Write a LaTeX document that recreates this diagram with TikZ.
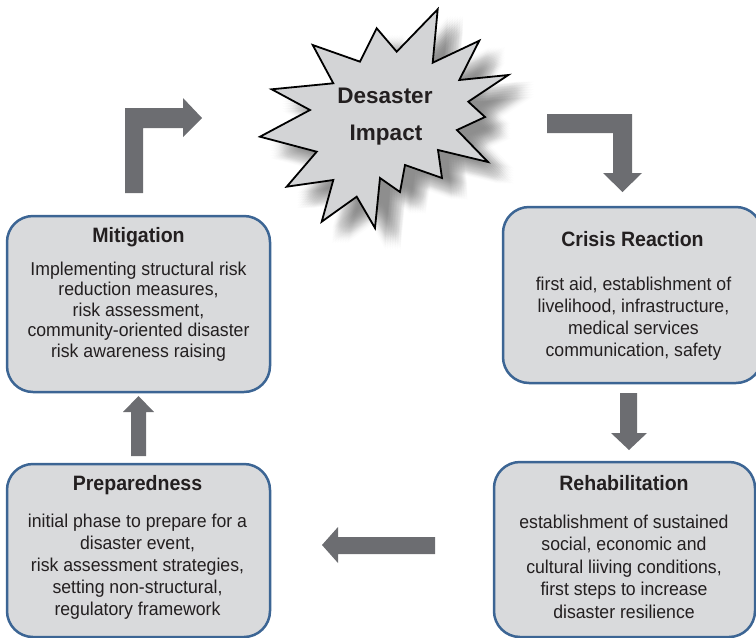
\documentclass[tikz,border=0pt]{standalone}
\usepackage{fontspec}
\setmainfont{Liberation Sans}
\newfontfamily\narrowbody[FakeStretch=0.95]{Liberation Sans}
\newfontfamily\narrowtitle[FakeStretch=0.94]{Liberation Sans}
\definecolor{boxfill}{HTML}{D9DADC}
\definecolor{boxline}{HTML}{3C6594}
\definecolor{arrowgray}{HTML}{6C6D71}
\definecolor{starfill}{HTML}{D3D4D6}
\definecolor{txt}{HTML}{231F20}
\tikzset{
  phasebox/.style={draw=boxline, fill=boxfill, line width=2.5pt, rounded corners=26pt},
  blockarrow/.style={fill=arrowgray, draw=none},
  ttl/.style={font={\narrowtitle\bfseries\fontsize{20.8}{24}\selectfont}, text=txt, inner sep=0pt, anchor=base},
  bodytxt/.style={font={\narrowbody\fontsize{18.6}{21}\selectfont}, text=txt, inner sep=0pt, anchor=base},
  startxt/.style={font={\bfseries\fontsize{22.5}{27}\selectfont}, text=txt, inner sep=0pt, anchor=base},
  starshape/.style={insert path={(437.7,9.3) -- (396.7,51.7) -- (376.7,28.3) -- (360,61.7) -- (312.7,45) -- (333.3,83.3) -- (271.7,89.3) -- (310,110) -- (260,136.7) -- (316.7,151.7) -- (286.7,186.7) -- (333.3,180) -- (321.7,221.7) -- (356.7,196.7) -- (375,228) -- (380,178) -- (400,192) -- (405,165) -- (442,178) -- (438,150) -- (488,162) -- (457,130) -- (485,117) -- (468.3,101.7) -- (508.3,75) -- (459.3,80) -- (479.3,40.7) -- (432.7,62.7) -- cycle}}
}
\begin{document}
\begin{tikzpicture}[x=1pt,y=-1pt]
\useasboundingbox (0,0) rectangle (756,638);
\begin{scope}
\clip (0,0) rectangle (756,638);
% star shadow (soft)
\foreach \dx in {-7.5,-5,-2.5,0,2.5,5,7.5}{
  \foreach \dy in {-7.5,-5,-2.5,0,2.5,5,7.5}{
    \fill[black, opacity=0.011, shift={(18+\dx,14+\dy)}, starshape];
  }
}
\path[fill=starfill, draw=black, line width=1.8pt, line join=miter, starshape];
\node[startxt] (imp1) at (385,103) {Desaster};
\node[startxt] (imp2) at (386,140) {Impact};

% boxes
\draw[phasebox] (7,216) rectangle (270,392);
\coordinate (mit) at (138.5,304);
\draw[phasebox] (503,207) rectangle (762,383);
\coordinate (cri) at (632.5,295);
\draw[phasebox] (7,464) rectangle (270,637);
\coordinate (pre) at (138.5,550);
\draw[phasebox] (494,462) rectangle (755,637);
\coordinate (reh) at (624.5,550);

% titles
\node[ttl] (mitt) at (138.5,242) {Mitigation};
\node[ttl] (crit) at (632.5,246) {Crisis Reaction};
\node[ttl] (pret) at (137.5,490) {Preparedness};
\node[ttl] (reht) at (624,490) {Rehabilitation};

% bodies
\foreach \t [count=\i] in {{Implementing structural risk},{reduction measures,},{risk assessment,},{community-oriented disaster},{risk awareness raising}}
  \node[bodytxt] (mitb\i) at (138.5,{275+20.6*(\i-1)}) {\t};
\foreach \t [count=\i] in {{first aid, establishment of},{livelihood, infrastructure,},{medical services},{communication, safety}}
  \node[bodytxt] (crib\i) at (633.5,{290+22*(\i-1)}) {\t};
\foreach \t [count=\i] in {{initial phase to prepare for a},{disaster event,},{risk assessment strategies,},{setting non-structural,},{regulatory framework}}
  \node[bodytxt] (preb\i) at (137.5,{527+22*(\i-1)}) {\t};
\foreach \t [count=\i] in {{establishment of sustained},{social, economic and},{cultural liiving conditions,},{first steps to increase},{disaster resilience}}
  \node[bodytxt] (rehb\i) at (624,{528+22.5*(\i-1)}) {\t};

% block arrows
\fill[blockarrow] (125,193) -- (125,108) -- (183,108) -- (183,98) -- (202,118) -- (183,137) -- (183,128) -- (143,128) -- (143,193) -- cycle;
\fill[blockarrow] (547,114) -- (632,114) -- (632,173) -- (642,173) -- (622.5,192) -- (603,173) -- (613,173) -- (613,133) -- (547,133) -- cycle;
\fill[blockarrow] (620,393) -- (637,393) -- (637,433) -- (647,433) -- (629,450) -- (611,433) -- (620,433) -- cycle;
\fill[blockarrow] (131,456) -- (131,412) -- (123,412) -- (138.5,396) -- (154,412) -- (146,412) -- (146,456) -- cycle;
\fill[blockarrow] (435,537) -- (338,537) -- (338,527) -- (322,545) -- (338,563) -- (338,554) -- (435,554) -- cycle;
\end{scope}
\end{tikzpicture}
\end{document}
